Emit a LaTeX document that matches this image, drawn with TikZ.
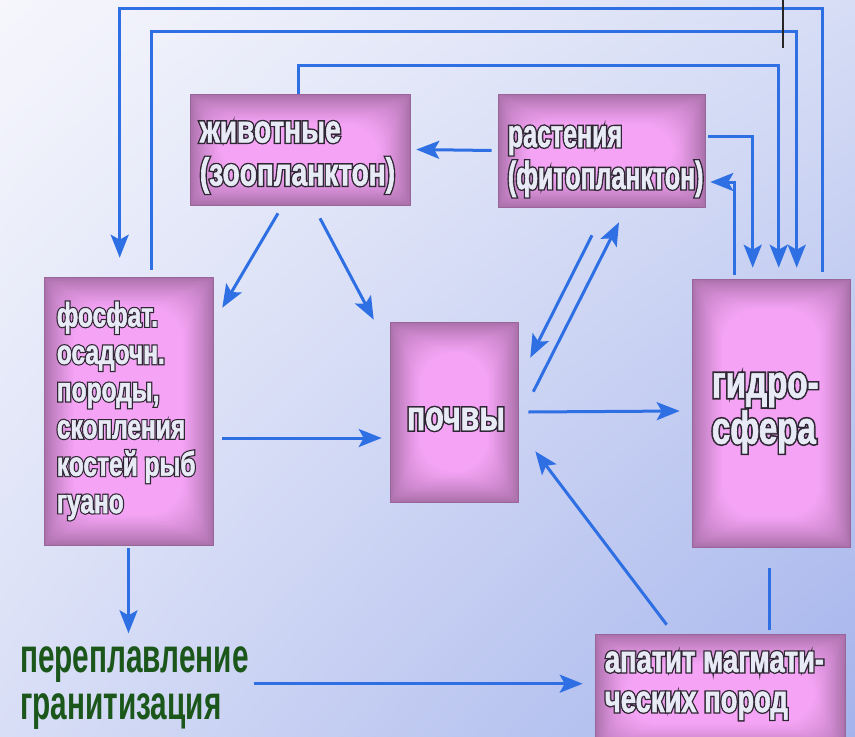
\documentclass[tikz,border=0pt]{standalone}
\usepackage{fontspec}
\setmainfont{Liberation Sans}
\newfontfamily\boxfnt[FakeStretch=0.72,FakeBold=1.5]{Liberation Sans}
\newfontfamily\boxolfnt[FakeStretch=0.72,FakeBold=8.5]{Liberation Sans}
\newfontfamily\phyfnt[FakeStretch=0.64,FakeBold=1.5]{Liberation Sans}
\newfontfamily\phyolfnt[FakeStretch=0.64,FakeBold=8.5]{Liberation Sans}
\newfontfamily\grfnt[FakeStretch=0.62]{Liberation Sans}
\usetikzlibrary{arrows.meta,calc,shadings}
\definecolor{arrc}{HTML}{2F6FE4}
\definecolor{boxin}{HTML}{F5A4F5}
\definecolor{boxout}{HTML}{AA70AA}
\definecolor{boxedge}{HTML}{9A669A}
\definecolor{olc}{HTML}{2E2632}
\definecolor{txtc}{HTML}{E8EAF6}
\definecolor{grc}{HTML}{1B561A}
\definecolor{bgUL}{HTML}{F6F6FC}
\definecolor{bgUR}{HTML}{D6DDF5}
\definecolor{bgLL}{HTML}{D8DEF6}
\definecolor{bgLR}{HTML}{A4B3EC}
% outlined text: #1 = outline font switch, #2 = text
\newcommand\olt[2]{\makebox[0pt][l]{#1\textcolor{olc}{#2}}\textcolor{txtc}{#2}}
\begin{document}
\begin{tikzpicture}[x=1pt,y=-1pt,
  box/.style={fill=boxout, draw=boxedge, line width=0.6pt, inner sep=0pt,
    path picture={
      \foreach \i in {1,...,24}{
        \pgfmathsetmacro\bandt{100*(\i/24)^0.85}
        \fill[boxin!\bandt!boxout, rounded corners=\i*1.4pt] ([xshift=\i*1.25pt,yshift=-\i*1.25pt]path picture bounding box.north west) rectangle ([xshift=-\i*1.25pt,yshift=\i*1.25pt]path picture bounding box.south east);
      }}},
  btxt/.style={inner sep=0pt, align=left, anchor=west},
  arr/.style={draw=arrc, line width=3pt, -{Stealth[length=23pt,width=18pt,inset=5pt]}},
  ln/.style={draw=arrc, line width=3pt}]
\shade[upper left=bgUL, upper right=bgUR, lower left=bgLL, lower right=bgLR] (0,0) rectangle (855,737);
\useasboundingbox (0,0) rectangle (855,737);
% boxes
\node[box, minimum width=220pt, minimum height=111pt] (zoo) at (300,149.5) {};
\node[box, minimum width=207pt, minimum height=113pt] (phy) at (601.5,150.5) {};
\node[box, minimum width=169pt, minimum height=268pt] (fos) at (128.5,411) {};
\node[box, minimum width=128pt, minimum height=180pt] (soil) at (454,412) {};
\node[box, minimum width=158pt, minimum height=268pt] (hyd) at (771,413) {};
\node[box, minimum width=250pt, minimum height=120pt] (apa) at (720,694) {};
% texts
\node[btxt, font=\boxfnt\bfseries\fontsize{39}{43}\selectfont] (zooT) at ([xshift=10pt,yshift=-8pt]zoo.west) {\olt{\boxolfnt}{животные}\\\olt{\boxolfnt}{(зоопланктон)}};
\node[btxt, font=\phyfnt\bfseries\fontsize{39}{42}\selectfont] (phyT) at ([xshift=10pt,yshift=-11pt]phy.west) {\olt{\phyolfnt}{растения}\\\olt{\phyolfnt}{(фитопланктон)}};
\node[btxt, font=\boxfnt\bfseries\fontsize{34}{37.3}\selectfont] (fosT) at ([xshift=13pt]fos.west) {\olt{\boxolfnt}{фосфат.}\\\olt{\boxolfnt}{осадочн.}\\\olt{\boxolfnt}{породы,}\\\olt{\boxolfnt}{скопления}\\\olt{\boxolfnt}{костей рыб}\\\olt{\boxolfnt}{гуано}};
\node[btxt, anchor=center, font=\boxfnt\bfseries\fontsize{42}{45}\selectfont] (soilT) at ([xshift=2pt,yshift=-7pt]soil.center) {\olt{\boxolfnt}{почвы}};
\node[btxt, font=\boxfnt\bfseries\fontsize{46}{46}\selectfont] (hydT) at ([xshift=20pt]hyd.west) {\olt{\boxolfnt}{гидро-}\\\olt{\boxolfnt}{сфера}};
\node[btxt, font=\boxfnt\bfseries\fontsize{38}{40}\selectfont] (apaT) at ([xshift=10pt,yshift=-52pt]apa.north west) {\olt{\boxolfnt}{апатит магмати-}\\\olt{\boxolfnt}{ческих пород}};
\node[btxt, text=grc, font=\grfnt\bfseries\fontsize{48}{47}\selectfont] (gran) at (20,688) {переплавление\\гранитизация};
% connectors
\draw[arr] ([xshift=131pt,yshift=7pt]hyd.north west) -- ++(0,-263) -| ([xshift=76pt,yshift=19pt]fos.north west);
\draw[arr] ([xshift=108pt,yshift=7pt]fos.north west) -- ++(0,-238) -| ([xshift=105pt,yshift=11pt]hyd.north west);
\draw[arr] ([xshift=-2pt]zoo.north) -- ++(0,-28) -| ([xshift=87pt,yshift=11pt]hyd.north west);
\draw[arr] ([xshift=3pt,yshift=14.5pt]phy.east) -| ([xshift=61pt,yshift=11pt]hyd.north west);
\draw[arr] ([xshift=43pt,yshift=4pt]hyd.north west) |- ([xshift=5pt,yshift=-31.5pt]phy.east);
\draw[arr] ([xshift=-6pt]phy.west) -- ([xshift=6pt]zoo.east);
\draw[arr] ([xshift=-22pt,yshift=-8pt]zoo.south) -- ([xshift=9pt,yshift=-31pt]fos.north east);
\draw[arr] ([xshift=20pt,yshift=-13pt]zoo.south) -- ([xshift=-16pt,yshift=2pt]soil.north west);
\draw[arr] ([xshift=-9.5pt,yshift=-28pt]phy.south) -- ([xshift=12pt,yshift=-36pt]soil.north east);
\draw[arr] ([xshift=15pt,yshift=-70pt]soil.north east) -- ([xshift=17.5pt,yshift=-15pt]phy.south);
\draw[arr] ([xshift=10pt]soil.east) -- ([xshift=-12pt,yshift=2pt]hyd.west);
\draw[arr] ([xshift=9pt,yshift=-27pt]fos.east) -- ([xshift=-8pt,yshift=-26pt]soil.west);
\draw[arr] ([xshift=72pt,yshift=9pt]apa.north west) -- ([xshift=17pt,yshift=51pt]soil.south east);
\draw[ln] ([xshift=-2pt,yshift=-21pt]hyd.south) -- ([xshift=49pt,yshift=4pt]apa.north);
\draw[arr] ([yshift=-3pt]fos.south) -- ($(fos.south)+(0,88)$);
\draw[arr] ($(gran.east |- apa.north west)+(5,50)$) -- ($(apa.north west)+(-12,50)$);
\draw[line width=1.2pt, black!85] (783,0) -- (783,48);
\end{tikzpicture}
\end{document}
